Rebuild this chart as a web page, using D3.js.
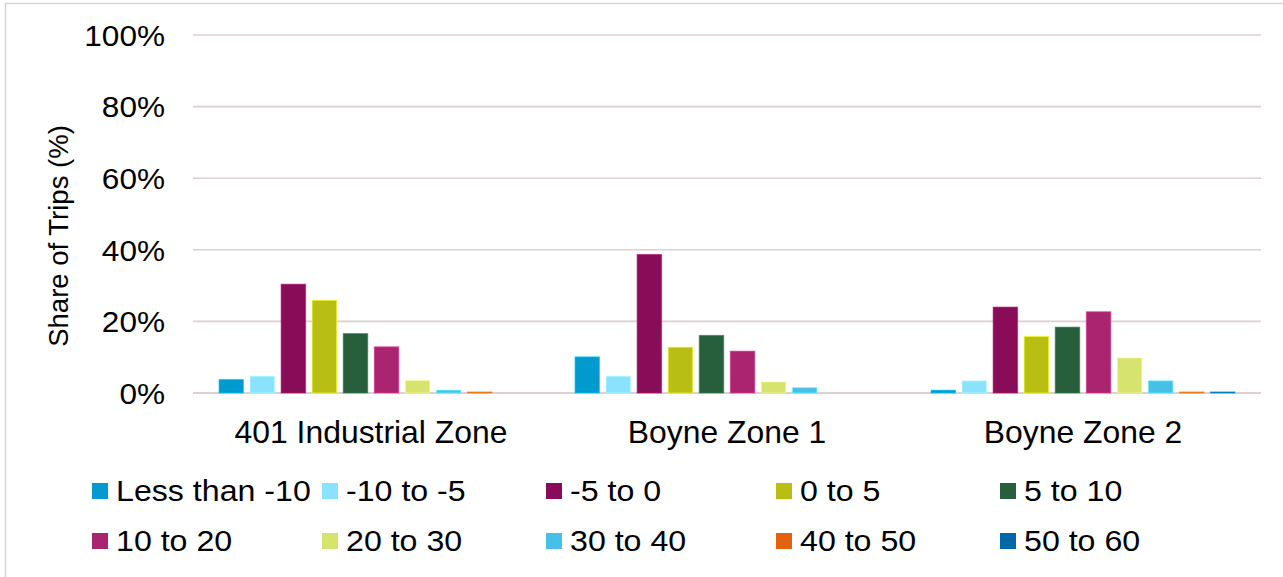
<!DOCTYPE html>
<html>
<head>
<meta charset="utf-8">
<script src="https://cdn.jsdelivr.net/npm/d3@7"></script>
<style>
  html, body { margin: 0; padding: 0; background: #fff; }
  svg { display: block; font-family: "Liberation Sans", Arial, sans-serif; }
</style>
</head>
<body>
<svg id="chart" width="1283" height="577"></svg>
<script>
// Zones along the x axis
const zones = ["401 Industrial Zone", "Boyne Zone 1", "Boyne Zone 2"];

// Speed-difference bins (one bar per bin in each zone)
const bins = ["Less than -10", "-10 to -5", "-5 to 0", "0 to 5", "5 to 10",
              "10 to 20", "20 to 30", "30 to 40", "40 to 50", "50 to 60"];

// Share of trips (%) per bin, one array per zone
const industrial401 = [3.8, 4.7, 30.4, 25.9, 16.6, 12.9, 3.5, 0.8, 0.3, 0.0];
const boyneZone1    = [10.1, 4.7, 38.7, 12.8, 16.1, 11.7, 3.1, 1.5, 0.0, 0.0];
const boyneZone2    = [0.8, 3.4, 24.0, 15.8, 18.4, 22.7, 9.8, 3.4, 0.3, 0.3];

const yTicks = [0, 20, 40, 60, 80, 100];

const binColors = ["#009ace", "#89e2fe", "#890c58", "#b8be14", "#275e3b",
                   "#ab2470", "#d6e46f", "#47c0e8", "#e3620e", "#0068a6"];

const seriesByZone = [industrial401, boyneZone1, boyneZone2];

const svg = d3.select("#chart");
const font = '"Liberation Sans", Arial, sans-serif';
const stretch = 1.07; // slightly wide lettering

// Outer frame
svg.append("rect")
  .attr("x", 5.5).attr("y", 3.5)
  .attr("width", 1290).attr("height", 600)
  .attr("fill", "none")
  .attr("stroke", "#ddd2d2")
  .attr("stroke-width", 1.5);

const plot = { left: 193, right: 1261, top: 35, bottom: 393 };

const y = d3.scaleLinear().domain([0, 100]).range([plot.bottom, plot.top]);
const x0 = d3.scaleBand().domain(zones).range([plot.left, plot.right]).padding(0);
const x1 = d3.scaleBand().domain(bins)
  .range([26, x0.bandwidth() - 26])
  .paddingInner(0.21).paddingOuter(0);
const color = d3.scaleOrdinal().domain(bins).range(binColors);

// Gridlines
svg.append("g")
  .selectAll("line")
  .data(yTicks)
  .join("line")
  .attr("x1", plot.left).attr("x2", plot.right)
  .attr("y1", d => y(d)).attr("y2", d => y(d))
  .attr("stroke", "#ddd0d0")
  .attr("stroke-width", d => d === 0 ? 2 : 1.6);

// Y axis tick labels
const yAxis = d3.axisLeft(y)
  .tickValues(yTicks)
  .tickFormat(d => d + "%")
  .tickSize(0)
  .tickPadding(0);
const yAxisG = svg.append("g")
  .attr("transform", "translate(165,0)")
  .call(yAxis);
yAxisG.select(".domain").remove();
yAxisG.selectAll("text")
  .attr("font-family", font)
  .attr("font-size", 29.5)
  .attr("fill", "#000")
  .attr("dy", "0.35em")
  .attr("transform", `scale(${stretch},1)`);

// Y axis title
svg.append("text")
  .attr("transform", "translate(58,236) rotate(-90)")
  .attr("text-anchor", "middle")
  .attr("dy", "0.35em")
  .attr("font-family", font)
  .attr("font-size", 27.5)
  .attr("fill", "#000")
  .text("Share of Trips (%)");

// Bars
const zoneG = svg.append("g")
  .selectAll("g")
  .data(zones)
  .join("g")
  .attr("transform", d => `translate(${x0(d)},0)`);

zoneG.selectAll("rect")
  .data((z, i) => bins.map((b, j) => ({ bin: b, value: seriesByZone[i][j] })))
  .join("rect")
  .attr("x", d => x1(d.bin))
  .attr("width", x1.bandwidth())
  .attr("y", d => y(d.value))
  .attr("height", d => y(0) - y(d.value))
  .attr("fill", d => color(d.bin))
  .attr("stroke", d => d3.color(color(d.bin)).brighter(0.9))
  .attr("stroke-opacity", 0.6)
  .attr("stroke-width", d => d.value > 0 ? 1 : 0);

// X axis category labels
const xAxis = d3.axisBottom(x0).tickSize(0).tickPadding(0);
const xAxisG = svg.append("g")
  .attr("transform", "translate(0,432)")
  .call(xAxis);
xAxisG.select(".domain").remove();
xAxisG.selectAll("text")
  .attr("font-family", font)
  .attr("font-size", 30.5)
  .attr("fill", "#000")
  .attr("dy", "0.35em")
  .attr("transform", "scale(1.045,1)");

// Legend: two rows of five
const legendCols = [92, 322, 546, 776, 1000];
const legendRows = [491, 541];
const legend = svg.append("g")
  .selectAll("g")
  .data(bins)
  .join("g")
  .attr("transform", (d, i) => `translate(${legendCols[i % 5]},${legendRows[Math.floor(i / 5)]})`);

legend.append("rect")
  .attr("x", 0).attr("y", -8)
  .attr("width", 16).attr("height", 16)
  .attr("fill", d => color(d));

legend.append("text")
  .attr("transform", "translate(24,0) scale(1.09,1)")
  .attr("dy", "0.35em")
  .attr("font-family", font)
  .attr("font-size", 29.5)
  .attr("fill", "#000")
  .text(d => d);
</script>
</body>
</html>
